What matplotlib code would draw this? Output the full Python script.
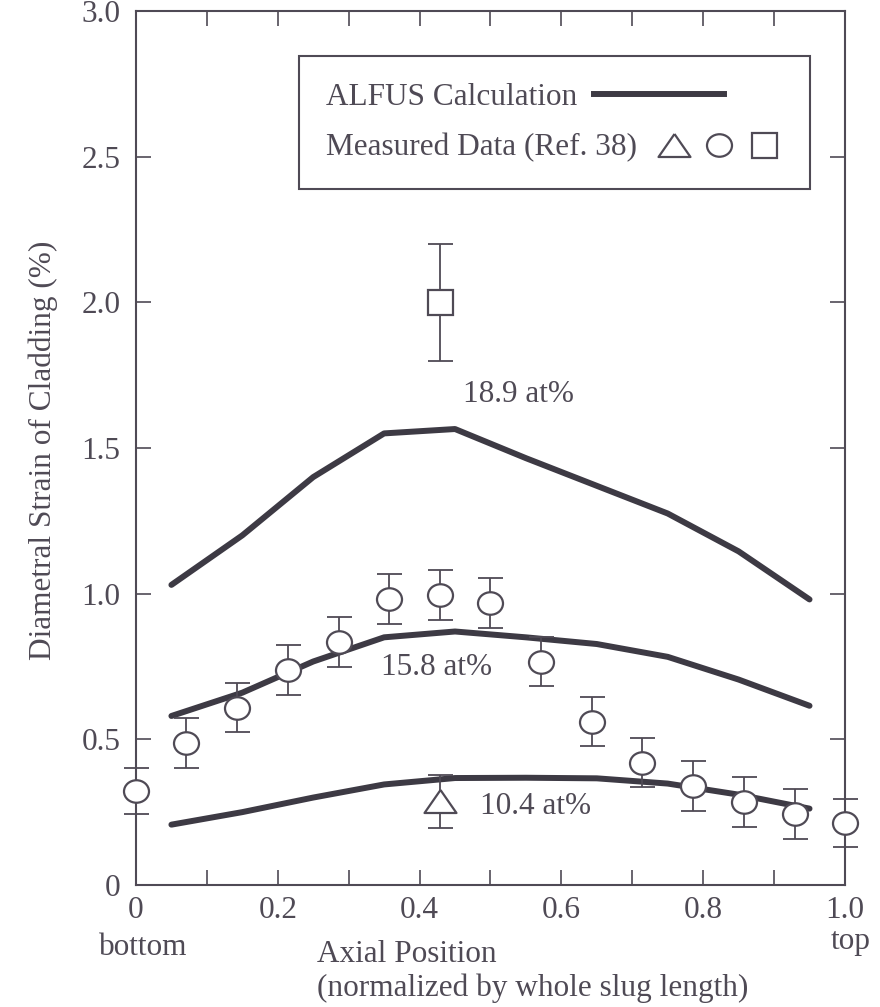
"""Diametral strain of cladding vs axial position: ALFUS calculation and measured data."""

import matplotlib

matplotlib.use("Agg")
import matplotlib.pyplot as plt
from matplotlib.legend_handler import HandlerTuple
from matplotlib.path import Path
from matplotlib.ticker import FixedLocator, MultipleLocator

# ALFUS calculation curves (three burnup levels)
CALC_X = [0.05, 0.15, 0.25, 0.35, 0.45, 0.55, 0.65, 0.75, 0.85, 0.95]
CALC_189 = [1.03, 1.20, 1.40, 1.55, 1.565, 1.465, 1.37, 1.275, 1.145, 0.98]
CALC_158 = [0.58, 0.66, 0.767, 0.85, 0.87, 0.85, 0.827, 0.783, 0.705, 0.615]
CALC_104 = [0.207, 0.25, 0.30, 0.345, 0.367, 0.368, 0.366, 0.348, 0.31, 0.262]

# measured data (Ref. 38), circles = 15.8 at%
CIRCLE_X = [0.0, 0.071, 0.143, 0.214, 0.286, 0.357, 0.429, 0.5,
            0.571, 0.643, 0.714, 0.786, 0.857, 0.929, 1.0]
CIRCLE_Y = [0.323, 0.487, 0.609, 0.737, 0.835, 0.981, 0.995, 0.968,
            0.766, 0.561, 0.42, 0.341, 0.286, 0.244, 0.213]
CIRCLE_ERR = [0.08, 0.085, 0.085, 0.085, 0.086, 0.086, 0.086, 0.086,
              0.084, 0.085, 0.083, 0.086, 0.086, 0.086, 0.083]
TRIANGLE_X = [0.429]
TRIANGLE_Y = [0.287]
TRIANGLE_ERR = [0.091]
SQUARE_X = [0.429]
SQUARE_Y = [2.0]
SQUARE_ERR = [0.2]

CURVE_LABELS = ["18.9 at%", "15.8 at%", "10.4 at%"]
X_TICKS = [0.0, 0.2, 0.4, 0.6, 0.8, 1.0]
X_TICK_LABELS = ["0", "0.2", "0.4", "0.6", "0.8", "1.0"]
Y_TICKS = [0.0, 0.5, 1.0, 1.5, 2.0, 2.5, 3.0]
Y_TICK_LABELS = ["0", "0.5", "1.0", "1.5", "2.0", "2.5", "3.0"]

INK = "#4f4a55"
CURVE = "#3d3a44"
FONT_SIZE = 22.5

plt.rcParams["font.family"] = ["Liberation Serif", "DejaVu Serif"]

# slightly flattened markers, as in the scanned figure
_circle = Path.unit_circle()
ELLIPSE = Path(_circle.vertices * [1.0, 0.9], _circle.codes)
TRIANGLE = [(0.0, 0.72), (-1.0, -0.72), (1.0, -0.72), (0.0, 0.72)]

fig = plt.figure(figsize=(8.8, 10.07), dpi=100)
ax = fig.add_axes([0.1545, 0.1212, 0.8057, 0.8679])

for values in (CALC_189, CALC_158, CALC_104):
    ax.plot(CALC_X, values, color=CURVE, lw=4.3, solid_capstyle="round", zorder=2)

marker_style = dict(ls="none", mfc="white", mec=INK, mew=1.6, zorder=4, clip_on=False)
point_sets = [
    (CIRCLE_X, CIRCLE_Y, CIRCLE_ERR, ELLIPSE, 18),
    (TRIANGLE_X, TRIANGLE_Y, TRIANGLE_ERR, TRIANGLE, 23),
    (SQUARE_X, SQUARE_Y, SQUARE_ERR, "s", 18),
]
handles = []
for xs, ys, errs, marker, size in point_sets:
    bars = ax.errorbar(xs, ys, yerr=errs, fmt="none", ecolor=INK, elinewidth=1.3,
                       capsize=9, capthick=1.3, zorder=3)
    for artist in bars.get_children():
        artist.set_clip_on(False)
    (points,) = ax.plot(xs, ys, marker=marker, ms=size, **marker_style)
    handles.append(points)

text_style = dict(fontsize=FONT_SIZE, color=INK, ha="center", va="center")
ax.text(0.539, 1.682, CURVE_LABELS[0], **text_style)
ax.text(0.4245, 0.745, CURVE_LABELS[1], **text_style)
ax.text(0.564, 0.268, CURVE_LABELS[2], **text_style)

ax.set_xlim(0, 1)
ax.set_ylim(0, 3)
ax.xaxis.set_major_locator(FixedLocator(X_TICKS))
ax.xaxis.set_minor_locator(MultipleLocator(0.1))
ax.set_xticklabels(X_TICK_LABELS)
ax.yaxis.set_major_locator(FixedLocator(Y_TICKS))
ax.set_yticklabels(Y_TICK_LABELS)
ax.tick_params(which="both", direction="in", top=True, right=True, length=11,
               width=1.2, color=INK, labelsize=FONT_SIZE, labelcolor=INK)
ax.tick_params(axis="x", pad=8)
ax.tick_params(axis="y", pad=11)
for spine in ax.spines.values():
    spine.set_linewidth(1.5)
    spine.set_color(INK)

ax.set_ylabel("Diametral Strain of Cladding (%)", fontsize=FONT_SIZE, color=INK)
ax.yaxis.set_label_coords(-0.11, 0.4977)
ax.set_xlabel("Axial Position\n(normalized by whole slug length)", fontsize=FONT_SIZE,
              color=INK, ha="left", linespacing=1.2)
ax.xaxis.set_label_coords(0.255, -0.063)
ax.text(0.01, -0.071, "bottom", transform=ax.transAxes, **text_style)
ax.text(1.008, -0.065, "top", transform=ax.transAxes, **text_style)

(calc_handle,) = ax.plot([], [], color=CURVE, lw=4.3)
circle_h, triangle_h, square_h = handles
legend = ax.legend(
    [calc_handle, (triangle_h, circle_h, square_h)],
    ["ALFUS Calculation", "Measured Data (Ref. 38)"],
    handler_map={tuple: HandlerTuple(ndivide=None, pad=0.16)},
    loc="upper left", bbox_to_anchor=(0.23, 0.9485), borderaxespad=0,
    markerfirst=False, handlelength=4.15, handletextpad=0.55, labelspacing=0.7,
    borderpad=0.85, fancybox=False, framealpha=1, edgecolor=INK,
    fontsize=FONT_SIZE, labelcolor=INK,
)
legend.get_frame().set_linewidth(1.5)
# text first, handle after it, but rows left-aligned like the original key
for column in legend._legend_handle_box.get_children():
    column.align = "left"

fig.savefig("out.png", dpi=100)
